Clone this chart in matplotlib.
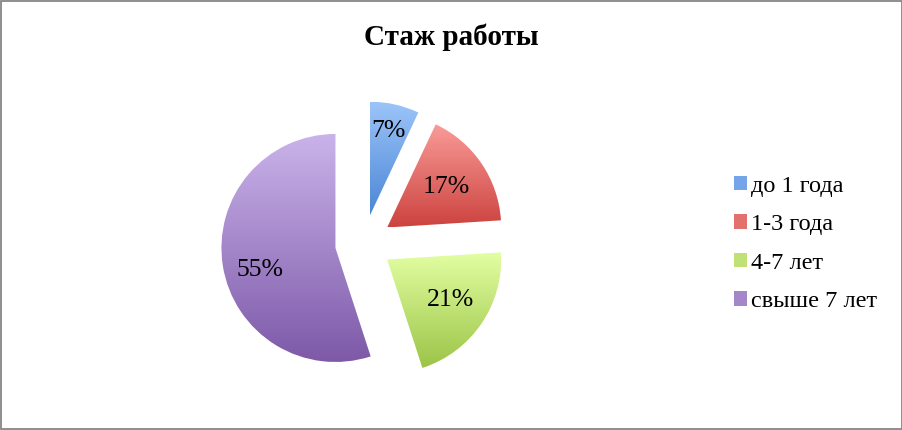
import matplotlib
matplotlib.use('Agg')
import matplotlib.pyplot as plt
import numpy as np
from matplotlib.colors import LinearSegmentedColormap
from matplotlib.patches import Patch, Rectangle

# data
labels = ['до 1 года', '1-3 года', '4-7 лет', 'свыше 7 лет']
values = [7, 17, 21, 55]
top_colors = ['#9cc4fa', '#fa9c99', '#e2ffa2', '#cab3ea']
bottom_colors = ['#4a86d4', '#cc433f', '#9cc447', '#7d59a8']
mid_colors = ['#74a5e8', '#e2706c', '#c0e176', '#a387c9']
title = 'Стаж работы'

plt.rcParams['font.family'] = ['Liberation Serif', 'DejaVu Serif']

W, H = 903, 430
fig = plt.figure(figsize=(W / 100, H / 100), dpi=100)

# pie axes over whole figure, 1 data unit = radius in pixels
R = 114.0
cx, cy = 363.6, H - 243.5
ax = fig.add_axes([0, 0, 1, 1])
ax.set_axis_off()

wedges, texts, autotexts = ax.pie(values, startangle=90, counterclock=False,
                                  explode=[0.25] * 4, autopct='%d%%',
                                  pctdistance=0.68, radius=1.0,
                                  textprops=dict(fontsize=18.5, color='black'))

# gradient fill per wedge (light on top, dark at the bottom)
grad = np.linspace(1, 0, 256).reshape(-1, 1)
for w, ct, cb in zip(wedges, top_colors, bottom_colors):
    ext = w.get_path().get_extents()
    cmap = LinearSegmentedColormap.from_list('g', [cb, ct])
    im = ax.imshow(grad, cmap=cmap, extent=[ext.x0, ext.x1, ext.y0, ext.y1],
                   aspect='auto', origin='upper', zorder=1)
    im.set_clip_path(w)
    w.set_facecolor('none')
    w.set_edgecolor('none')
for t in autotexts:
    t.set_zorder(3)

# label placement like Excel best fit (distance, angle shift in degrees)
label_dist = [0.76, 0.63, 0.66, 0.69]
label_turn = [0, 0, 2, 7]
for w, t, d, a in zip(wedges, autotexts, label_dist, label_turn):
    ang = np.deg2rad((w.theta1 + w.theta2) / 2 + a)
    c = w.center
    t.set_position((c[0] + d * np.cos(ang), c[1] + d * np.sin(ang)))

ax.set_xlim(-cx / R, (W - cx) / R)
ax.set_ylim(-cy / R, (H - cy) / R)

fig.text(451 / W, 1 - 37 / H, title, ha='center', va='center',
         fontsize=21, fontweight='bold')

handles = [Patch(facecolor=c, edgecolor='none') for c in mid_colors]
fig.legend(handles, labels, loc='center left', bbox_to_anchor=(712 / W, 1 - 244 / H),
           frameon=False, fontsize=17.5, handlelength=0.55, handleheight=0.55,
           handletextpad=0.15, labelspacing=0.72)

# chart border
fig.patches.append(Rectangle((0.0015, 0.002), 0.997, 0.995, transform=fig.transFigure,
                             fill=False, edgecolor='#868686', linewidth=1.3))

fig.savefig('out.png', dpi=100)
